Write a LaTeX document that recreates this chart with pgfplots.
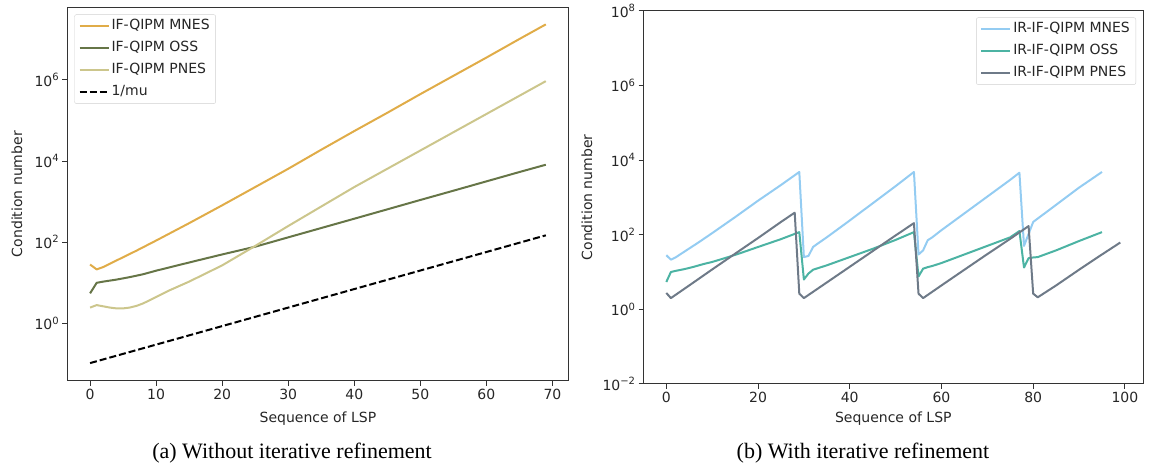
\documentclass[border=0pt]{standalone}
\usepackage{fontspec}
\setmainfont{DejaVu Sans}
\newfontfamily\capfont{Liberation Serif}
\usepackage{pgfplots}
\pgfplotsset{compat=1.18}
\definecolor{mnesA}{HTML}{E0AC48}
\definecolor{ossA}{HTML}{667547}
\definecolor{pnesA}{HTML}{CCC68C}
\definecolor{mnesB}{HTML}{94CCF2}
\definecolor{ossB}{HTML}{4CB3A3}
\definecolor{pnesB}{HTML}{6E7A88}
\definecolor{spine}{HTML}{333333}
\newcommand\tp[1]{10\raisebox{0.42em}{\fontsize{10}{10}\selectfont #1}}
\pgfplotsset{mpl/.style={
  scale only axis,
  axis line style={spine, line width=1pt},
  tick style={spine, line width=1pt},
  tick align=outside, major tick length=5pt, tick pos=left,
  yminorticks=false, xminorticks=false,
  font=\fontsize{14}{16}\selectfont,
  ticklabel style={font=\fontsize{14}{16}\selectfont, text=black!85},
  /pgf/number format/assume math mode=true,
  xlabel={Sequence of LSP}, ylabel={Condition number},
  label style={text=black!85},
  legend cell align=left,
  legend image code/.code={\draw[##1] (0pt,0pt) -- (29pt,0pt);},
  legend style={draw=black!18, rounded corners=2pt, fill=white, fill opacity=0.8, text opacity=1,
    font=\fontsize{14}{16}\selectfont, inner xsep=4pt, inner ysep=3pt, row sep=5pt,
    nodes={inner sep=2pt, text height=10pt, text depth=3pt, text=black!85}},
  every axis plot/.append style={line width=2pt, line join=round},
}}
\begin{document}
\begin{tikzpicture}
\useasboundingbox (0,0) rectangle (1150pt,468pt);
\begin{semilogyaxis}[mpl,
  at={(67.3pt,87pt)}, anchor=south west, width=501.3pt, height=373.7pt,
  xmin=-3.45, xmax=72.45, ymin=0.038, ymax=6.17e7,
  xtick={0,10,...,70},
  ytick={1,100,10000,1000000}, yticklabels={\tp{0},\tp{2},\tp{4},\tp{6}},
  xlabel style={at={(axis description cs:0.5,-0.1017)}, anchor=center},
  ylabel style={at={(axis description cs:-0.1003,0.5)}, anchor=center},
  legend style={at={(0.014,0.981)}, anchor=north west},
]
\addplot[mnesA] coordinates {(0,28.2) (1,21.4) (2,24.5) (3,29.5) (4,35.5) (5,42.7) (7,61.7) (10,110) (15,295) (20,813) (25,2290) (30,6460) (35,19050) (40,54950) (45,154900) (50,446700) (55,1.26e6) (60,3.55e6) (65,1.02e7) (69,2.34e7)};
\addlegendentry{IF-QIPM MNES}
\addplot[ossA] coordinates {(0,5.5) (1,10) (2,10.7) (4,12.0) (6,13.8) (8,16.2) (10,19.9) (13,26.3) (16,34.7) (20,50) (25,77.6) (30,132) (35,224) (40,380) (45,646) (50,1100) (55,1860) (60,3160) (65,5370) (69,8130)};
\addlegendentry{IF-QIPM OSS}
\addplot[pnesA] coordinates {(0,2.45) (1,2.82) (2,2.63) (3,2.45) (4,2.34) (5,2.34) (6,2.45) (7,2.69) (8,3.09) (9,3.7) (10,4.47) (12,6.5) (15,10.7) (20,26.9) (25,81) (30,251) (35,759) (40,2290) (45,6460) (50,18200) (55,51300) (60,144500) (65,407000) (69,933000)};
\addlegendentry{IF-QIPM PNES}
\addplot[black, dash pattern=on 7pt off 3pt] coordinates {(0,0.105) (10,0.2996) (20,0.857) (30,2.45) (40,7.01) (50,20.07) (60,57.4) (69,148)};
\addlegendentry{1/mu}
\end{semilogyaxis}
\begin{semilogyaxis}[mpl,
  at={(643.6pt,84pt)}, anchor=south west, width=499.4pt, height=373.3pt,
  xmin=-4.95, xmax=103.95, ymin=0.01, ymax=1e8,
  xtick={0,20,...,100},
  ytick={0.01,1,100,1e4,1e6,1e8}, yticklabels={\tp{−2},\tp{0},\tp{2},\tp{4},\tp{6},\tp{8}},
  xlabel style={at={(axis description cs:0.5,-0.094)}, anchor=center},
  ylabel style={at={(axis description cs:-0.1133,0.5)}, anchor=center},
  legend style={at={(0.986,0.982)}, anchor=north east},
]
\addplot[mnesB] coordinates {(0,28.2) (1,21.4) (2,24.5) (3,29.5) (4,35.5) (5,42.7) (7,61.7) (10,110) (15,295) (20,813) (25,2138) (29,4786)
 (30,25.1) (31,26.9) (32,46.8) (33,57.5) (35,85.1) (40,240) (45,692) (50,1995) (54,4786)
 (55,29.5) (56,38.0) (57,70.8) (58,85.1) (60,132) (65,372) (70,1047) (75,2951) (77,4571)
 (78,50) (79,105) (80,219) (85,631) (90,1820) (95,4786)};
\addlegendentry{IR-IF-QIPM MNES}
\addplot[ossB] coordinates {(0,5.4) (1,10) (2,10.7) (4,12.0) (6,13.8) (8,16.2) (10,18.6) (13,24) (16,31.6) (20,46.8) (25,75.9) (29,117)
 (30,6.3) (31,9.1) (32,11.5) (33,12.6) (35,15.1) (40,25.1) (45,41.7) (50,72.4) (54,117)
 (55,7.6) (56,12.3) (57,13.5) (58,14.5) (60,17.4) (65,29.5) (70,50.1) (75,85.1) (77,125)
 (78,13.2) (79,23.4) (80,24.5) (81,25.1) (85,38.0) (90,67.6) (95,117)};
\addlegendentry{IR-IF-QIPM OSS}
\addplot[pnesB] coordinates {(0,2.75) (1,2.0) (5,4.37) (10,11.7) (15,30.9) (20,81.3) (25,219) (28,389)
 (29,2.63) (30,2.0) (35,5.25) (40,13.8) (45,36.3) (50,95.5) (54,204)
 (55,2.63) (56,2.0) (60,4.37) (65,11.5) (70,30.2) (75,77.6) (79,170)
 (80,2.63) (81,2.1) (85,4.37) (90,11.5) (95,29.5) (99,61.7)};
\addlegendentry{IR-IF-QIPM PNES}
\end{semilogyaxis}
\node[font=\capfont\fontsize{22}{25}\selectfont] at (292pt,15pt) {(a) Without iterative refinement};
\node[font=\capfont\fontsize{22}{25}\selectfont] at (863pt,15pt) {(b) With iterative refinement};
\end{tikzpicture}
\end{document}
